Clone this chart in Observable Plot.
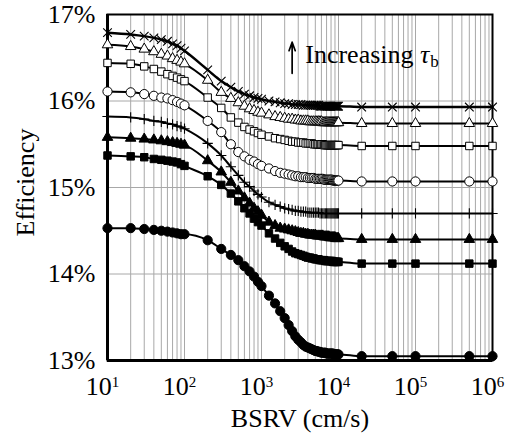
<!DOCTYPE html>
<html>
<head>
<meta charset="utf-8">
<script src="https://cdn.jsdelivr.net/npm/d3@7"></script>
<script src="https://cdn.jsdelivr.net/npm/@observablehq/plot@0.6"></script>
<style>
  html, body { margin: 0; padding: 0; background: #fff; }
  #chart { width: 514px; height: 436px; }
  #chart svg, #chart svg text { font-family: "Liberation Serif", "Times New Roman", serif !important; }
</style>
</head>
<body>
<div id="chart"></div>
<script>
// Back-surface recombination velocity (cm/s) at which efficiency was computed
const bsrv = [
  10, 20, 30, 40, 50, 60, 70, 80, 90, 100,
  200, 300, 400, 500, 600, 700, 800, 900, 1000,
  1250, 1500, 1750, 2000, 2250, 2500, 2750, 3000, 3250, 3500, 3750, 4000,
  4250, 4500, 4750, 5000, 5250, 5500, 5750, 6000, 6250, 6500, 6750, 7000,
  7250, 7500, 7750, 8000, 8250, 8500, 8750, 9000, 9250, 9500, 9750, 10000,
  20000, 50000, 100000, 500000, 1000000
];

// Efficiency (%) for each bulk lifetime, from shortest to longest
const effTau1 = [
  14.53, 14.53, 14.52, 14.51, 14.50, 14.49, 14.48, 14.47, 14.46, 14.46,
  14.39, 14.29, 14.22, 14.16, 14.09, 14.03, 13.97, 13.91, 13.86,
  13.75, 13.66, 13.57, 13.49, 13.41, 13.34, 13.28, 13.24, 13.21, 13.18, 13.16, 13.15,
  13.14, 13.13, 13.12, 13.11, 13.11, 13.10, 13.10, 13.09, 13.09, 13.09, 13.09, 13.08,
  13.08, 13.08, 13.08, 13.08, 13.08, 13.08, 13.07, 13.07, 13.07, 13.07, 13.07, 13.07,
  13.05, 13.05, 13.05, 13.05, 13.05
];
const effTau2 = [
  15.37, 15.36, 15.35, 15.33, 15.32, 15.31, 15.30, 15.29, 15.27, 15.25,
  15.13, 15.03, 14.93, 14.84, 14.76, 14.70, 14.64, 14.60, 14.56,
  14.47, 14.41, 14.36, 14.32, 14.29, 14.26, 14.24, 14.23, 14.22, 14.21, 14.20, 14.19,
  14.19, 14.18, 14.18, 14.17, 14.17, 14.17, 14.16, 14.16, 14.16, 14.16, 14.15, 14.15,
  14.15, 14.15, 14.15, 14.15, 14.15, 14.14, 14.14, 14.14, 14.14, 14.14, 14.14, 14.14,
  14.12, 14.12, 14.12, 14.12, 14.12
];
const effTau3 = [
  15.58, 15.57, 15.56, 15.55, 15.54, 15.53, 15.52, 15.51, 15.50, 15.49,
  15.31, 15.18, 15.06, 14.96, 14.88, 14.82, 14.76, 14.72, 14.68,
  14.60, 14.56, 14.53, 14.52, 14.51, 14.50, 14.49, 14.48, 14.47, 14.47, 14.46, 14.46,
  14.45, 14.45, 14.45, 14.45, 14.44, 14.44, 14.44, 14.44, 14.44, 14.43, 14.43, 14.43,
  14.43, 14.43, 14.42, 14.42, 14.42, 14.42, 14.42, 14.42, 14.41, 14.41, 14.41, 14.41,
  14.40, 14.40, 14.40, 14.40, 14.40
];
const effTau4 = [
  15.82, 15.81, 15.79, 15.77, 15.76, 15.74, 15.73, 15.71, 15.70, 15.68,
  15.51, 15.37, 15.24, 15.14, 15.06, 15.01, 14.96, 14.92, 14.89,
  14.83, 14.80, 14.78, 14.76, 14.75, 14.74, 14.73, 14.73, 14.72, 14.72, 14.72, 14.71,
  14.71, 14.71, 14.71, 14.71, 14.71, 14.71, 14.70, 14.70, 14.70, 14.70, 14.70, 14.70,
  14.70, 14.70, 14.70, 14.70, 14.70, 14.70, 14.70, 14.70, 14.70, 14.70, 14.70, 14.70,
  14.70, 14.70, 14.70, 14.70, 14.70
];
const effTau5 = [
  16.11, 16.10, 16.08, 16.06, 16.04, 16.03, 16.01, 15.99, 15.97, 15.95,
  15.77, 15.64, 15.50, 15.41, 15.36, 15.32, 15.30, 15.27, 15.25,
  15.22, 15.19, 15.17, 15.16, 15.15, 15.14, 15.13, 15.13, 15.12, 15.12, 15.12, 15.11,
  15.11, 15.11, 15.11, 15.10, 15.10, 15.10, 15.10, 15.10, 15.10, 15.09, 15.09, 15.09,
  15.09, 15.09, 15.09, 15.09, 15.09, 15.08, 15.08, 15.08, 15.08, 15.08, 15.08, 15.08,
  15.07, 15.07, 15.07, 15.07, 15.07
];
const effTau6 = [
  16.44, 16.43, 16.40, 16.37, 16.34, 16.31, 16.29, 16.27, 16.25, 16.23,
  16.04, 15.92, 15.81, 15.75, 15.70, 15.67, 15.65, 15.63, 15.61,
  15.59, 15.57, 15.56, 15.55, 15.54, 15.53, 15.53, 15.52, 15.52, 15.52, 15.51, 15.51,
  15.51, 15.51, 15.50, 15.50, 15.50, 15.50, 15.50, 15.50, 15.50, 15.49, 15.49, 15.49,
  15.49, 15.49, 15.49, 15.49, 15.49, 15.49, 15.49, 15.49, 15.49, 15.49, 15.49, 15.49,
  15.48, 15.48, 15.48, 15.48, 15.48
];
const effTau7 = [
  16.65, 16.63, 16.60, 16.57, 16.54, 16.52, 16.49, 16.47, 16.45, 16.43,
  16.24, 16.10, 16.03, 15.98, 15.94, 15.91, 15.89, 15.87, 15.86,
  15.84, 15.82, 15.81, 15.80, 15.79, 15.79, 15.78, 15.78, 15.77, 15.77, 15.77, 15.77,
  15.76, 15.76, 15.76, 15.76, 15.76, 15.76, 15.76, 15.76, 15.75, 15.75, 15.75, 15.75,
  15.75, 15.75, 15.75, 15.75, 15.75, 15.75, 15.75, 15.75, 15.75, 15.75, 15.75, 15.75,
  15.74, 15.74, 15.74, 15.74, 15.74
];
const effTau8 = [
  16.79, 16.77, 16.75, 16.73, 16.71, 16.69, 16.66, 16.64, 16.61, 16.58,
  16.36, 16.23, 16.16, 16.11, 16.08, 16.06, 16.04, 16.03, 16.02,
  16.00, 15.99, 15.98, 15.97, 15.97, 15.96, 15.96, 15.96, 15.96, 15.95, 15.95, 15.95,
  15.95, 15.95, 15.95, 15.95, 15.95, 15.95, 15.94, 15.94, 15.94, 15.94, 15.94, 15.94,
  15.94, 15.94, 15.94, 15.94, 15.94, 15.94, 15.94, 15.94, 15.94, 15.94, 15.94, 15.94,
  15.93, 15.93, 15.93, 15.93, 15.93
];

// Axis ticks and texts
const xTicks = [10, 100, 1000, 10000, 100000, 1000000];
const yTicks = [13, 14, 15, 16, 17];
const yGrid = [14, 15, 16];
const xLabel = "BSRV (cm/s)";
const yLabel = "Efficiency";

// Annotation: arrow and "Increasing τb"
const noteWord = "Increasing ";
const noteSymbol = "τ";
const noteSub = "b";
const noteX = 3700;
const noteY = 16.53;
const arrowX = 2500;
const arrowFrom = 16.32;
const arrowTo = 16.68;

// Marker style for each lifetime series
const series = [
  {values: effTau1, symbol: "circle",   fill: "black", r: 4.6, lw: 2},
  {values: effTau2, symbol: "square",   fill: "black", r: 4.2, lw: 2},
  {values: effTau3, symbol: "triangle", fill: "black", r: 3.9, lw: 2},
  {values: effTau4, symbol: "plus",     fill: "none",  r: 3.4, lw: 2},
  {values: effTau5, symbol: "circle",   fill: "white", r: 4.6, lw: 2},
  {values: effTau6, symbol: "square",   fill: "white", r: 4.2, lw: 2},
  {values: effTau7, symbol: "triangle", fill: "white", r: 3.9, lw: 2},
  {values: effTau8, symbol: "times",    fill: "none",  r: 4.0, lw: 2.5}
];

// Minor log grid: 1–9 × each decade
const gridXTicks = [];
for (let e = 1; e < 6; ++e) for (let m = 1; m < 10; ++m) gridXTicks.push(m * 10 ** e);
gridXTicks.push(1e6);

const seriesMarks = series.flatMap(s => {
  const pts = bsrv.map((x, i) => ({x, y: s.values[i]}));
  return [
    Plot.line(pts, {x: "x", y: "y", stroke: "black", strokeWidth: s.lw, curve: "monotone-x"}),
    Plot.dot(pts, {
      x: "x", y: "y", symbol: () => s.symbol, r: s.r,
      fill: s.fill, stroke: "black", strokeWidth: s.fill === "none" ? 1.1 : 1
    })
  ];
});

const noteFull = noteWord + noteSymbol + noteSub;

const chart = Plot.plot({
  width: 514,
  height: 436,
  marginLeft: 107,
  marginRight: 22,
  marginTop: 14,
  marginBottom: 76,
  x: {type: "log", domain: [10, 1e6]},
  y: {domain: [13, 17]},
  symbol: {type: "identity"},
  style: {
    fontFamily: "Liberation Serif, serif",
    fontSize: "26px",
    color: "black",
    background: "white"
  },
  marks: [
    Plot.gridX(gridXTicks, {stroke: "#a8a8a8", strokeOpacity: 1, strokeWidth: 1}),
    Plot.gridY(yGrid, {stroke: "#a8a8a8", strokeOpacity: 1, strokeWidth: 1}),
    Plot.frame({stroke: "black", strokeWidth: 2}),
    Plot.ruleX([10], {stroke: "black", strokeWidth: 3}),
    Plot.ruleY([13], {stroke: "black", strokeWidth: 3}),
    Plot.axisX(xTicks, {
      tickSize: 0, tickPadding: 16, dx: -5, label: null,
      tickFormat: d => "10" + Math.round(Math.log10(d))
    }),
    Plot.axisY(yTicks, {
      tickSize: 0, tickPadding: 12, label: null,
      tickFormat: d => `${d}%`
    }),
    ...seriesMarks,
    Plot.arrow([{x: arrowX, y1: arrowFrom, y2: arrowTo}], {
      x: "x", y1: "y1", y2: "y2", stroke: "black", strokeWidth: 1.7,
      headLength: 8, headAngle: 40
    }),
    Plot.text([{x: noteX, y: noteY, t: noteFull}], {
      x: "x", y: "y", text: "t", textAnchor: "start", lineAnchor: "middle",
      fontSize: 26
    }),
    Plot.text([xLabel], {
      text: d => d, frameAnchor: "bottom", textAnchor: "middle", lineAnchor: "middle",
      dy: 58, fontSize: 26
    }),
    Plot.text([yLabel], {
      text: d => d, frameAnchor: "left", textAnchor: "middle", lineAnchor: "middle",
      rotate: -90, dx: -82, dy: -5, fontSize: 26
    })
  ]
});

document.getElementById("chart").appendChild(chart);

const SVGNS = "http://www.w3.org/2000/svg";

// Powers of ten with superscript exponents
chart.querySelectorAll('[aria-label="x-axis tick label"] text').forEach(t => {
  const s = t.textContent;
  const exp = s.slice(2);
  t.textContent = "10";
  const sup = document.createElementNS(SVGNS, "tspan");
  sup.setAttribute("dy", "-8");
  sup.setAttribute("font-size", "15");
  sup.textContent = exp;
  t.appendChild(sup);
});

// Italic tau with a subscript b
chart.querySelectorAll("text").forEach(t => {
  if (t.textContent !== noteFull) return;
  t.textContent = noteWord;
  const tau = document.createElementNS(SVGNS, "tspan");
  tau.setAttribute("font-style", "italic");
  tau.textContent = noteSymbol;
  const sub = document.createElementNS(SVGNS, "tspan");
  sub.setAttribute("dy", "4");
  sub.setAttribute("dx", "1");
  sub.setAttribute("font-size", "17");
  sub.textContent = noteSub;
  t.appendChild(tau);
  t.appendChild(sub);
});
</script>
</body>
</html>
